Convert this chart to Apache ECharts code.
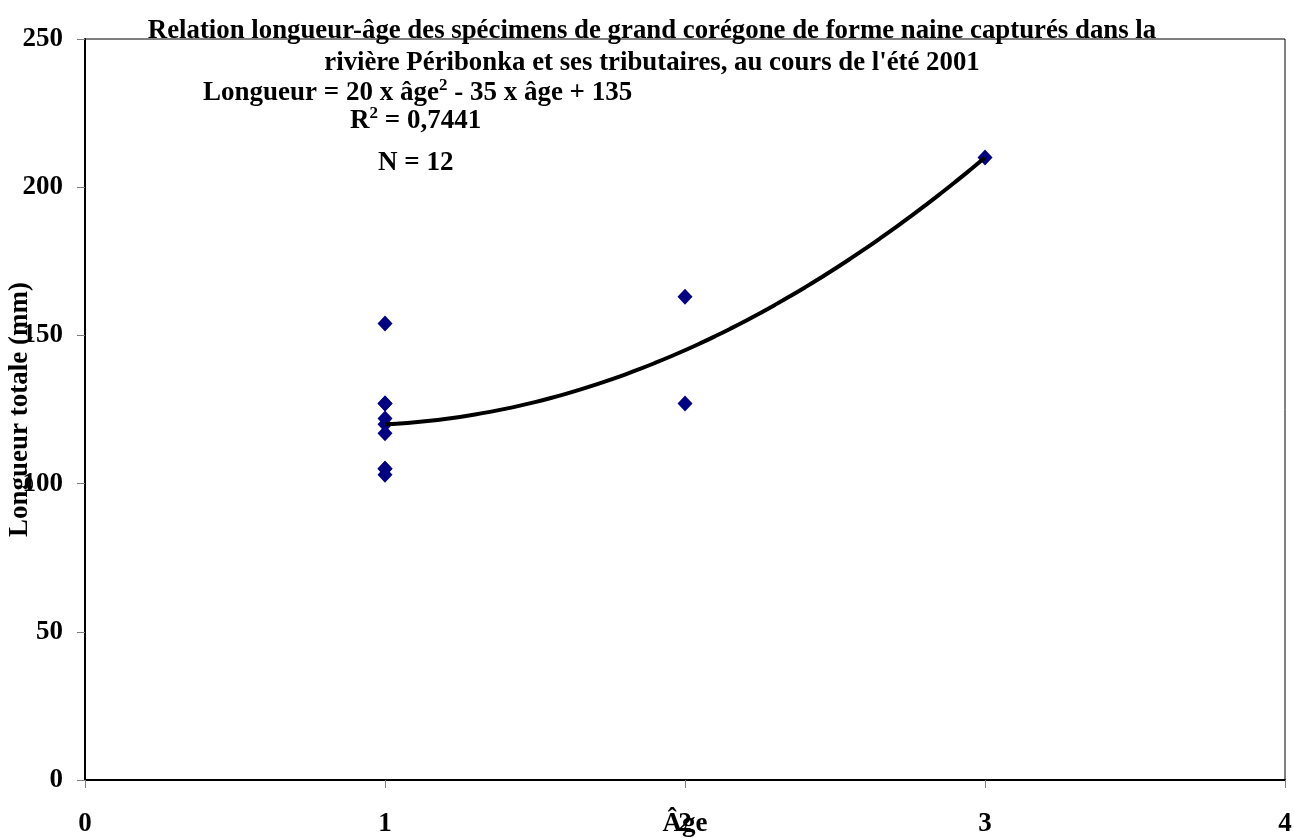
<!DOCTYPE html>
<html>
<head>
<meta charset="utf-8">
<script src="https://cdn.jsdelivr.net/npm/echarts@6/dist/echarts.min.js"></script>
<style>
  html, body { margin: 0; padding: 0; background: #fff; }
  #chart { width: 1294px; height: 838px; }
</style>
</head>
<body>
<div id="chart"></div>
<script>
// Specimens: age (years) and total length (mm)
const ages = [1, 1, 1, 1, 1, 1, 1, 1, 1, 2, 2, 3];
const lengths = [154, 127, 127, 122, 120, 117, 105, 105, 103, 163, 127, 210];

// Quadratic fit: Longueur = a x âge² + b x âge + c
const fitCoefs = [20, -35, 135];
const fitRange = [1, 3];

const xTicks = [0, 1, 2, 3, 4];
const yTicks = [0, 50, 100, 150, 200, 250];

const titleText = "Relation longueur-âge des spécimens de grand corégone de forme naine capturés dans la\nrivière Péribonka et ses tributaires, au cours de l'été 2001";

const points = ages.map((a, i) => [a, lengths[i]]);

// Fitted curve evaluated along the age range
const curve = [];
const steps = 40;
for (let k = 0; k <= steps; k++) {
  const x = fitRange[0] + (fitRange[1] - fitRange[0]) * k / steps;
  curve.push([x, fitCoefs[0] * x * x + fitCoefs[1] * x + fitCoefs[2]]);
}

const serif = '"Liberation Serif", "Times New Roman", serif';
const FS = 27;

const richStyles = {
  a: { fontFamily: serif, fontSize: FS, fontWeight: 'bold', color: '#000', verticalAlign: 'bottom', lineHeight: 30 },
  s: { fontFamily: serif, fontSize: 17, fontWeight: 'bold', color: '#000', verticalAlign: 'top', lineHeight: 30, padding: [0, 0, 12, 0] }
};

const chart = echarts.init(document.getElementById('chart'));
chart.setOption({
  animation: false,
  backgroundColor: '#fff',
  title: {
    text: titleText,
    left: 647,
    top: 10,
    textAlign: 'center',
    textStyle: { fontFamily: serif, fontSize: 26.8, fontWeight: 'bold', color: '#000', lineHeight: 32 }
  },
  grid: {
    left: 85, right: 9, top: 39, bottom: 58,
    containLabel: false,
    outerBoundsMode: 'none',
    show: true, borderColor: '#000', borderWidth: 1, backgroundColor: 'transparent'
  },
  xAxis: {
    type: 'value',
    min: xTicks[0], max: xTicks[xTicks.length - 1], interval: 1,
    name: 'Âge',
    nameLocation: 'middle',
    nameGap: 31,
    nameMoveOverlap: false,
    nameTextStyle: { fontFamily: serif, fontSize: FS, fontWeight: 'bold', color: '#000', verticalAlign: 'top' },
    axisLine: { show: true, onZero: false, lineStyle: { color: '#000', width: 2 } },
    axisTick: { show: true, length: 8, lineStyle: { color: '#808080', width: 1 } },
    axisLabel: { margin: 31, fontFamily: serif, fontSize: FS, fontWeight: 'bold', color: '#000' },
    splitLine: { show: false }
  },
  yAxis: {
    type: 'value',
    min: yTicks[0], max: yTicks[yTicks.length - 1], interval: 50,
    name: 'Longueur totale (mm)',
    nameLocation: 'middle',
    nameGap: 51,
    nameRotate: 90,
    nameMoveOverlap: false,
    nameTextStyle: { fontFamily: serif, fontSize: FS, fontWeight: 'bold', color: '#000' },
    axisLine: { show: true, onZero: false, lineStyle: { color: '#000', width: 2 } },
    axisTick: { show: true, length: 8, lineStyle: { color: '#808080', width: 1 } },
    axisLabel: { margin: 22, fontFamily: serif, fontSize: FS, fontWeight: 'bold', color: '#000' },
    splitLine: { show: false }
  },
  graphic: [
    {
      type: 'text', left: 203, top: 77, z: 10,
      style: { text: '{a|Longueur = 20 x âge}{s|2}{a| - 35 x âge + 135}', rich: richStyles }
    },
    {
      type: 'text', left: 350, top: 105, z: 10,
      style: { text: '{a|R}{s|2}{a| = 0,7441}', rich: richStyles }
    },
    {
      type: 'text', left: 378, top: 150, z: 10,
      style: { text: 'N = 12', fontFamily: serif, fontSize: FS, fontWeight: 'bold', fill: '#000' }
    }
  ],
  series: [
    {
      type: 'scatter',
      data: points,
      symbol: 'diamond',
      symbolSize: [15, 16],
      itemStyle: { color: '#000080', opacity: 1 },
      z: 2
    },
    {
      type: 'line',
      data: curve,
      smooth: true,
      showSymbol: false,
      symbol: 'none',
      lineStyle: { color: '#000', width: 4 },
      z: 3
    }
  ]
});
</script>
</body>
</html>
